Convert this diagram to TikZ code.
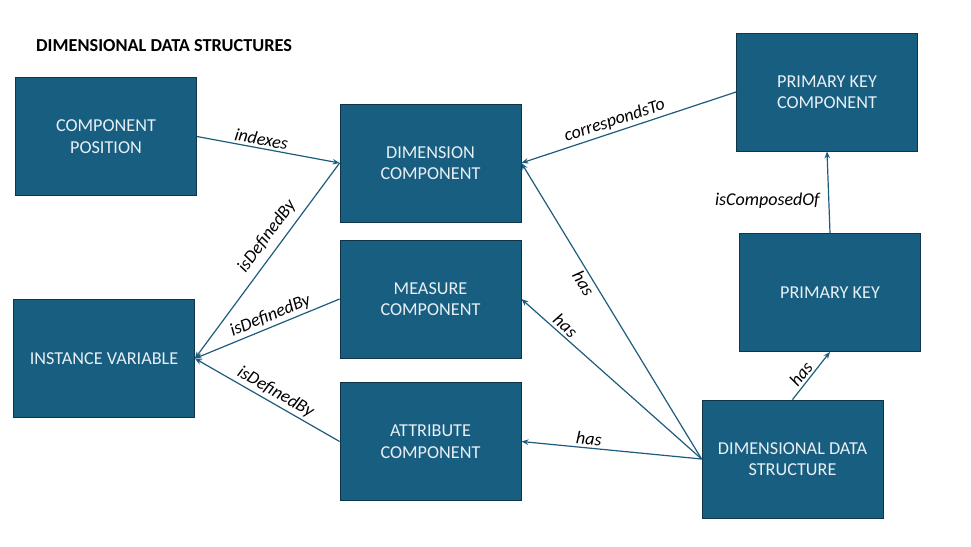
\documentclass[tikz,border=0pt]{standalone}
\usepackage{fontspec}
\setmainfont{Carlito}
\usetikzlibrary{arrows.meta}
\definecolor{boxfill}{RGB}{24,94,128}
\definecolor{boxline}{RGB}{16,52,72}
\definecolor{boxtext}{RGB}{232,240,245}
\definecolor{linkcol}{RGB}{30,92,124}
\tikzset{
  entity/.style={draw=boxline, line width=0.8pt, fill=boxfill, text=boxtext,
    minimum width=181pt, minimum height=118pt, align=center, inner sep=2pt,
    font=\fontsize{18.2}{21.5}\selectfont},
  link/.style={draw=linkcol, line width=1.2pt, -{Stealth[length=7pt,width=5.5pt]}},
  lbl/.style={font=\fontsize{18}{21}\selectfont\itshape, text=black, inner sep=2.5pt}
}
\begin{document}
\begin{tikzpicture}[x=1pt,y=-1pt]
\useasboundingbox (0,0) rectangle (971,546);
\node[anchor=west, inner sep=0pt, font=\fontsize{18.3}{22}\selectfont\bfseries] (title) at (36,46) {DIMENSIONAL DATA STRUCTURES};

\node[entity] (cp)  at (106,136.5) {COMPONENT\\POSITION};
\node[entity] (dc)  at (430.5,163) {DIMENSION\\COMPONENT};
\node[entity] (mc)  at (430.5,299) {MEASURE\\COMPONENT};
\node[entity] (ac)  at (430.5,441.5) {ATTRIBUTE\\COMPONENT};
\node[entity] (iv)  at (104,358.5) {INSTANCE VARIABLE};
\node[entity] (pkc) at (827,92) {PRIMARY KEY\\COMPONENT};
\node[entity] (pk)  at (830,292.5) {PRIMARY KEY};
\node[entity] (dds) at (792.5,459) {DIMENSIONAL DATA\\STRUCTURE};

\draw[link] (cp.east) -- node[lbl, pos=0.44, sloped, above] {indexes} (dc.west);
\draw[link] (dc.west) -- node[lbl, pos=0.42, sloped, above=4pt] {isDefinedBy} (iv.east);
\draw[link] (mc.west) -- node[lbl, pos=0.45, sloped, above] {isDefinedBy} (iv.east);
\draw[link] (ac.west) -- node[lbl, pos=0.48, sloped, above] {isDefinedBy} (iv.east);
\draw[link] (pkc.west) -- node[lbl, pos=0.55, sloped, above] {correspondsTo} (dc.east);
\draw[link] (dds.west) -- node[lbl, pos=0.61, sloped, below] {has} (dc.east);
\draw[link] (dds.west) -- node[lbl, pos=0.79, sloped, above] {has} (mc.east);
\draw[link] (dds.west) -- node[lbl, pos=0.63, sloped, above] {has} (ac.east);
\draw[link] (pk.north) -- node[lbl, pos=0.4, left, xshift=-6pt] {isComposedOf} (pkc.south);
\draw[link] (dds.north) -- node[lbl, pos=0.42, sloped, above] {has} (pk.south);
\end{tikzpicture}
\end{document}
